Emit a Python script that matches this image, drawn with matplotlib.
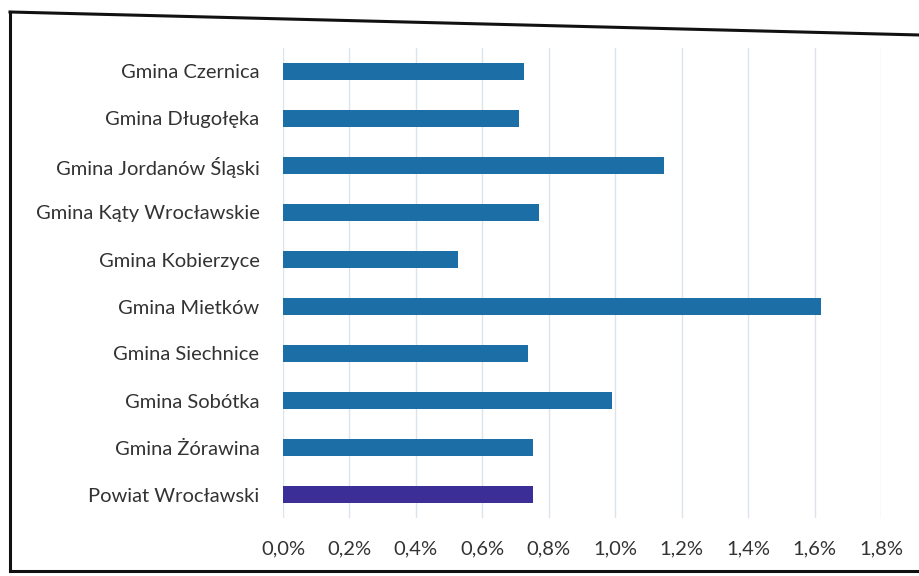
import matplotlib
matplotlib.use('Agg')
import matplotlib.pyplot as plt
from matplotlib.ticker import FuncFormatter, MultipleLocator
from matplotlib.lines import Line2D

plt.rcParams['font.family'] = ['Lato', 'DejaVu Sans']

# data (share, in %)
units = ['Gmina Czernica', 'Gmina Długołęka', 'Gmina Jordanów Śląski',
         'Gmina Kąty Wrocławskie', 'Gmina Kobierzyce', 'Gmina Mietków',
         'Gmina Siechnice', 'Gmina Sobótka', 'Gmina Żórawina',
         'Powiat Wrocławski']
values = [0.724, 0.71, 1.148, 0.771, 0.527, 1.62, 0.738, 0.99, 0.752, 0.753]

colors = ['#1c6ea6'] * (len(units) - 1) + ['#3b2e96']

W, H = 920, 576
fig = plt.figure(figsize=(W / 100, H / 100), dpi=100)
ax = fig.add_axes([283 / W, 1 - 518 / H, (881 - 283) / W, (518 - 48) / H])

ypos = list(range(len(units)))[::-1]
ax.barh(ypos, values, height=0.37, color=colors, zorder=2)

ax.set_xlim(0, 1.8)
ax.set_ylim(-0.5, len(units) - 0.5)
ax.xaxis.set_major_locator(MultipleLocator(0.2))
ax.xaxis.set_major_formatter(FuncFormatter(lambda v, p: '{:.1f}%'.format(v).replace('.', ',')))
ax.set_yticks(ypos)
ax.set_yticklabels(units)

ax.grid(axis='x', color='#dde3ea', linewidth=1, zorder=0)
ax.tick_params(axis='both', length=0, colors='#333333')
ax.tick_params(axis='x', pad=16, labelsize=14.5)
ax.tick_params(axis='y', pad=17, labelsize=14.5)
for s in ax.spines.values():
    s.set_visible(False)

# scanned page frame (top edge slightly tilted)
def px(x, y):
    return x / W, 1 - y / H

frame = [((10, 12), (920, 35)), ((10, 12), (10, 571)), ((10, 571), (920, 571))]
for (a, b) in frame:
    (x0, y0), (x1, y1) = px(*a), px(*b)
    fig.lines.append(Line2D([x0, x1], [y0, y1], transform=fig.transFigure,
                            color='#111111', linewidth=2.2))

fig.savefig('out.png', dpi=100)
